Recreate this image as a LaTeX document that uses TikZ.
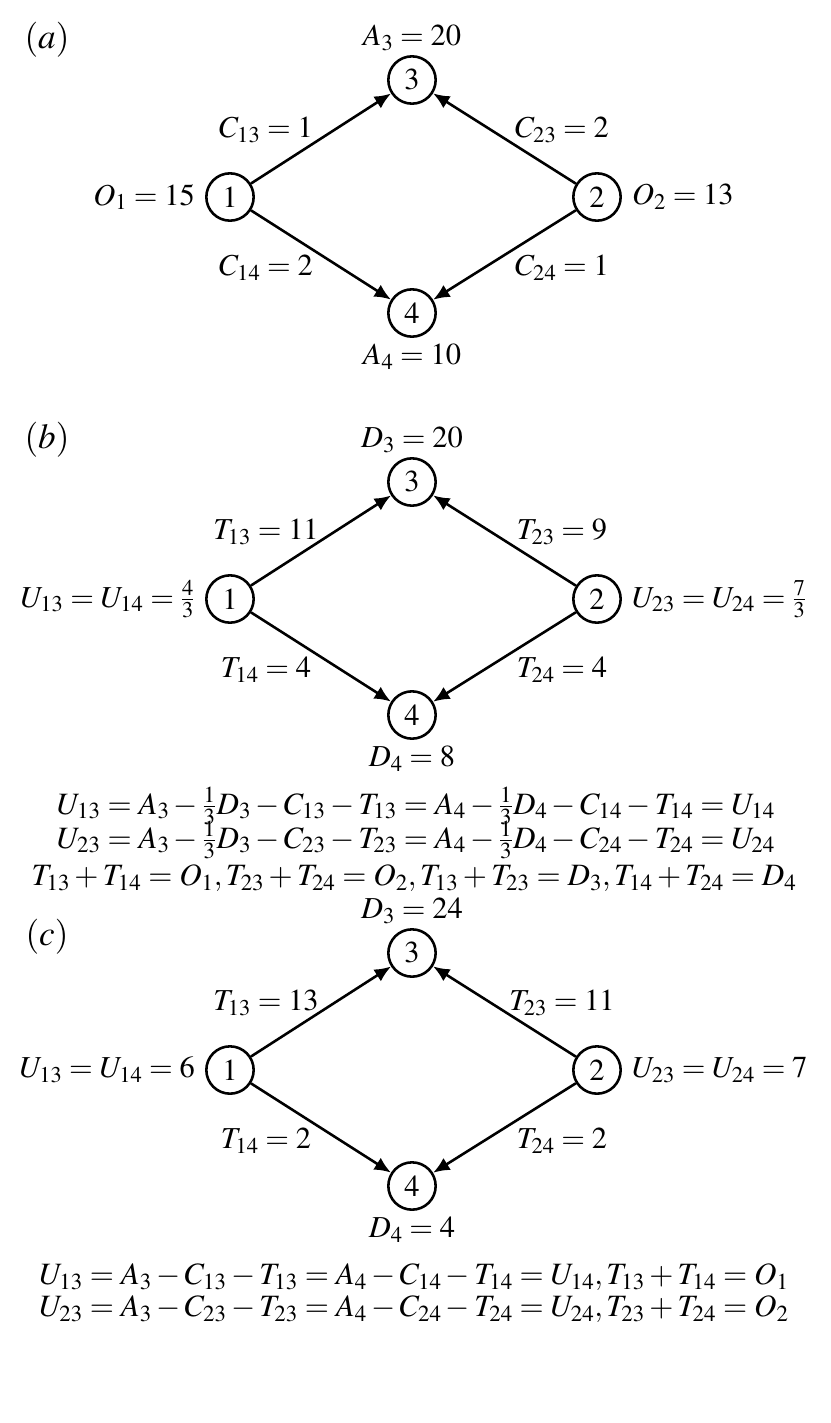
\documentclass[tikz,border=0pt]{standalone}
\usepackage{mathptmx}
\usetikzlibrary{arrows.meta}
\begin{document}
\begin{tikzpicture}[x=0.03cm,y=-0.03cm,
  every node/.style={font=\fontsize{26}{30}\selectfont},
  vtx/.style={draw,circle,line width=2.2pt,minimum size=1.42cm,inner sep=0pt},
  edge/.style={line width=2.2pt,-{Latex[length=14pt,width=12pt]}}]
\useasboundingbox (0,0) rectangle (830,1423);
\node[font=\fontsize{30}{34}\selectfont] (la) at (47,40) {$(a)$};
\node[font=\fontsize{30}{34}\selectfont] (lb) at (47,440) {$(b)$};
\node[font=\fontsize{30}{34}\selectfont] (lc) at (47,937) {$(c)$};
\newcommand\panel[9]{%
  \begin{scope}[yshift=-#1*0.03cm]
  \node[vtx] (n3#2) at (412,80) {$3$};
  \node[vtx] (n1#2) at (230,197) {$1$};
  \node[vtx] (n2#2) at (597,197) {$2$};
  \node[vtx] (n4#2) at (412,313) {$4$};
  \draw[edge] (n1#2) -- (n3#2);
  \draw[edge] (n2#2) -- (n3#2);
  \draw[edge] (n1#2) -- (n4#2);
  \draw[edge] (n2#2) -- (n4#2);
  \node (t3#2) at (412,38) {#3};
  \node (t4#2) at (412,357) {#4};
  \node[anchor=east] (t1#2) at (199,197) {#5};
  \node[anchor=west] (t2#2) at (628,197) {#6};
  \node (e13#2) at (266,130) {#7};
  \node (e23#2) at (562,130) {#8};
  \node (e14#2) at (266,268) {#9};
  \end{scope}}
\panel{0}{a}{$A_3=20$}{$A_4=10$}{$O_1=15$}{$O_2=13$}{$C_{13}=1$}{$C_{23}=2$}{$C_{14}=2$}
\node (e24a) at (562,268) {$C_{24}=1$};
\panel{402}{b}{$D_3=20$}{$D_4=8$}{$U_{13}=U_{14}=\frac{4}{3}$}{$U_{23}=U_{24}=\frac{7}{3}$}{$T_{13}=11$}{$T_{23}=9$}{$T_{14}=4$}
\node (e24b) at (562,670) {$T_{24}=4$};
\panel{873}{c}{$D_3=24$}{$D_4=4$}{$U_{13}=U_{14}=6$}{$U_{23}=U_{24}=7$}{$T_{13}=13$}{$T_{23}=11$}{$T_{14}=2$}
\node (e24c) at (562,1141) {$T_{24}=2$};
\begin{scope}[every node/.style={font=\fontsize{26.5}{30}\selectfont,inner sep=0pt}]
\node (eq1) at (416,806) {$U_{13}=A_3-\frac13 D_3-C_{13}-T_{13}=A_4-\frac13 D_4-C_{14}-T_{14}=U_{14}$};
\node (eq2) at (416,840) {$U_{23}=A_3-\frac13 D_3-C_{23}-T_{23}=A_4-\frac13 D_4-C_{24}-T_{24}=U_{24}$};
\node (eq3) at (414,878) {$T_{13}+T_{14}=O_1,T_{23}+T_{24}=O_2,T_{13}+T_{23}=D_3,T_{14}+T_{24}=D_4$};
\node (eq4) at (414,1277) {$U_{13}=A_3-C_{13}-T_{13}=A_4-C_{14}-T_{14}=U_{14},T_{13}+T_{14}=O_1$};
\node (eq5) at (414,1309) {$U_{23}=A_3-C_{23}-T_{23}=A_4-C_{24}-T_{24}=U_{24},T_{23}+T_{24}=O_2$};
\end{scope}
\end{tikzpicture}
\end{document}
